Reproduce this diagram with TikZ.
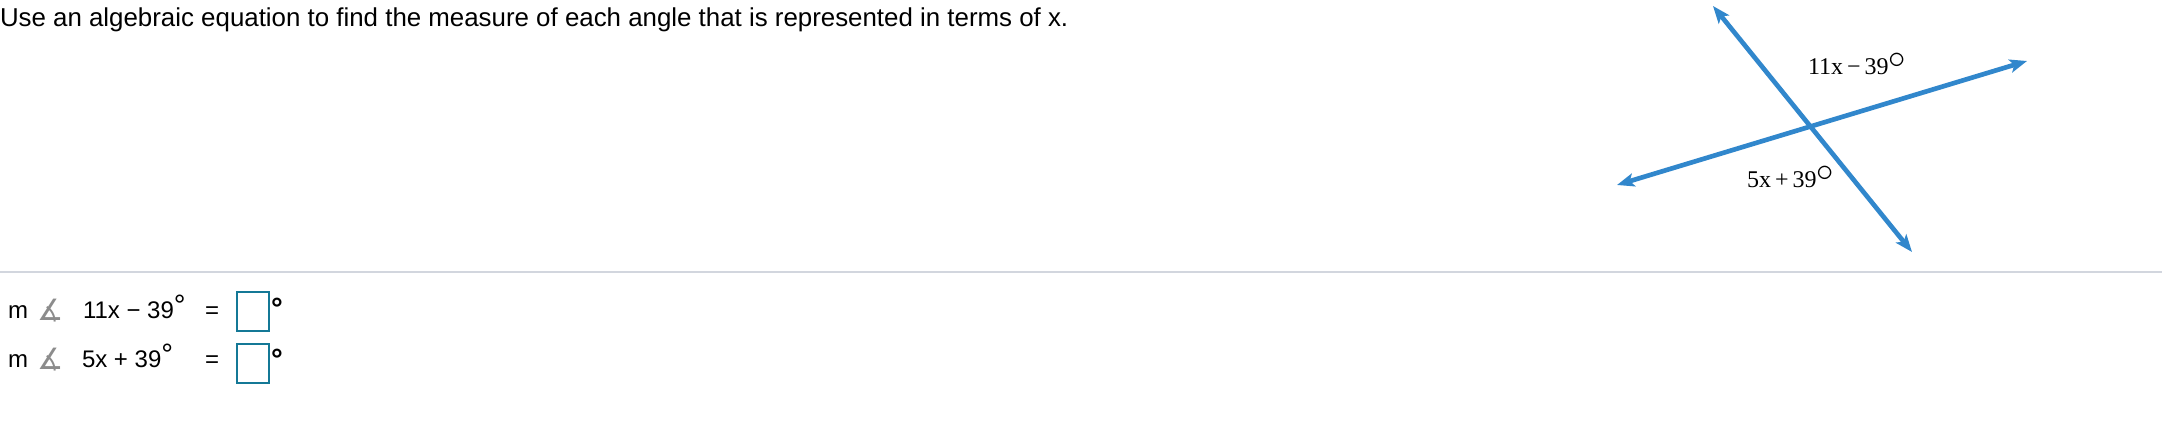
\documentclass[tikz,border=0pt]{standalone}
\usepackage{fontspec}
\setmainfont{Liberation Sans}
\newfontfamily\serifff{Liberation Serif}
\newfontfamily\dejavu{DejaVu Sans}
\usetikzlibrary{arrows.meta}
\definecolor{lineblue}{RGB}{49,135,204}
\definecolor{boxteal}{RGB}{20,120,150}
\definecolor{rulegray}{RGB}{210,214,222}
\definecolor{symgray}{RGB}{140,140,140}
\tikzset{
  txt/.style={anchor=base west,inner sep=0pt,outer sep=0pt,font=\fontsize{18}{20}\selectfont},
  headtxt/.style={anchor=base west,inner sep=0pt,outer sep=0pt,font=\fontsize{19.4}{22}\selectfont},
  lbl/.style={anchor=base west,inner sep=0pt,outer sep=0pt,font=\serifff\fontsize{18}{20}\selectfont},
  ansbox/.style={draw=boxteal,line width=1.3pt,minimum width=24pt,minimum height=29pt,inner sep=0pt},
  bluearrow/.style={draw=lineblue,line width=3.5pt,{Stealth[length=13pt,width=10pt,inset=3pt]}-{Stealth[length=13pt,width=10pt,inset=3pt]}},
}
\newcommand{\bigdeg}{\raisebox{0.28em}{\scalebox{1.5}{$\circ$}}}
\begin{document}
\begin{tikzpicture}[x=0.75pt,y=-0.75pt]
\useasboundingbox (0,0) rectangle (2162,424);
\fill[white] (0,0) rectangle (2162,424);
% header
\node[headtxt] (head) at (0,27) {Use an algebraic equation to find the measure of each angle that is represented in terms of x.};
% divider
\coordinate (rl) at (0,272);
\coordinate (rr) at (2162,272);
\draw[rulegray,line width=1.5pt] (rl) -- (rr);
% figure
\coordinate (a1) at (1713,6);
\coordinate (a2) at (1912,252);
\coordinate (b1) at (1617,185);
\coordinate (b2) at (2027,61);
\draw[bluearrow] (a1) -- (a2);
\draw[bluearrow] (b1) -- (b2);
\node[lbl] (l1) at (1808,75) {11x\,−\,39\bigdeg};
\node[lbl] (l2) at (1747,188) {5x\,+\,39\bigdeg};
% row 1
\node[txt] (m1) at (8,318) {m};
\node[txt,text=symgray,font=\dejavu\fontsize{22}{24}\selectfont] (s1) at (37,320) {∡};
\node[txt] (e1) at (83,318) {11x − 39\raisebox{0.12em}{\fontsize{22}{22}\selectfont °}};
\node[txt] (q1) at (205,318) {=};
\node[ansbox] (bx1) at (253,311.5) {};
\node[txt,font=\bfseries\fontsize{22}{22}\selectfont] (d1) at (271,318) {°};
% row 2
\node[txt] (m2) at (8,367) {m};
\node[txt,text=symgray,font=\dejavu\fontsize{22}{24}\selectfont] (s2) at (37,369) {∡};
\node[txt] (e2) at (82,367) {5x + 39\raisebox{0.12em}{\fontsize{22}{22}\selectfont °}};
\node[txt] (q2) at (205,367) {=};
\node[ansbox] (bx2) at (253,363.5) {};
\node[txt,font=\bfseries\fontsize{22}{22}\selectfont] (d2) at (271,369) {°};
\end{tikzpicture}
\end{document}
